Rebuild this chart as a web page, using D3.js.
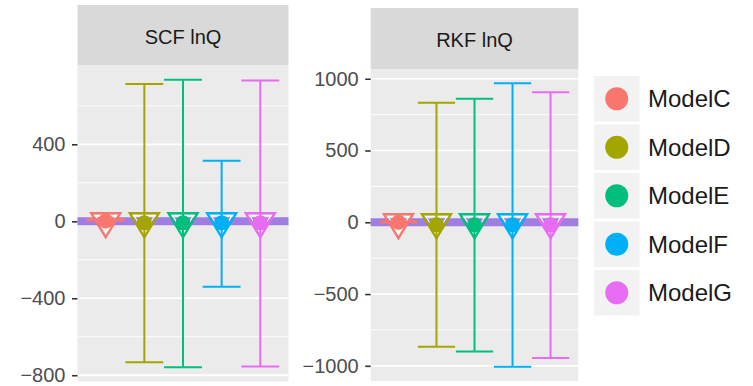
<!DOCTYPE html>
<html>
<head>
<meta charset="utf-8">
<script src="https://cdn.jsdelivr.net/npm/d3@7"></script>
<style>
  html, body { margin: 0; padding: 0; background: #ffffff; }
  svg { display: block; font-family: "Liberation Sans", Arial, sans-serif; }
</style>
</head>
<body>
<svg id="chart" width="753" height="386"></svg>
<script>
// ---------------- data ----------------
const models = ["ModelC", "ModelD", "ModelE", "ModelF", "ModelG"];
const colors = ["#F8766D", "#A3A500", "#00BF7D", "#00B0F6", "#E76BF3"];

const scfUpper = [10, 713, 735, 315, 732];
const scfLower = [4, -732, -758, -340, -755];
const scfCircle = [2, -8, -8, -8, -8];
const scfTriangle = [0, 0, 0, 0, 0];
const scfTicks = [400, 0, -400, -800];
const scfMinor = [600, 200, -200, -600];

const rkfUpper = [6, 832, 860, 969, 905];
const rkfLower = [-2, -868, -900, -1007, -946];
const rkfCircle = [0, -18, -18, -18, -18];
const rkfTriangle = [0, 0, 0, 0, 0];
const rkfTicks = [1000, 500, 0, -500, -1000];
const rkfMinor = [750, 250, -250, -750];

const refLine = 0;

const panels = [
  { title: "SCF lnQ", upper: scfUpper, lower: scfLower, circle: scfCircle, tri: scfTriangle,
    ticks: scfTicks, minor: scfMinor, x0: 77.5, x1: 288.5, stripTop: 5, top: 65.5, bottom: 381.5 },
  { title: "RKF lnQ", upper: rkfUpper, lower: rkfLower, circle: rkfCircle, tri: rkfTriangle,
    ticks: rkfTicks, minor: rkfMinor, x0: 370.7, x1: 578.3, stripTop: 8, top: 69, bottom: 381 }
];

const svg = d3.select("#chart");
const color = d3.scaleOrdinal().domain(models).range(colors);

panels.forEach(p => {
  const g = svg.append("g");
  const all = p.upper.concat(p.lower, p.circle, p.tri, [refLine]);
  const mn = d3.min(all), mx = d3.max(all);
  const ex = (mx - mn) * 0.05;
  const y = d3.scaleLinear().domain([mn - ex, mx + ex]).range([p.bottom, p.top]);
  const x = d3.scalePoint().domain(models).range([p.x0, p.x1]).padding(0.73);
  const step = x.step();

  // strip
  g.append("rect").attr("x", p.x0).attr("y", p.stripTop)
    .attr("width", p.x1 - p.x0).attr("height", p.top - p.stripTop).attr("fill", "#d9d9d9");
  g.append("text").attr("x", (p.x0 + p.x1) / 2).attr("y", p.stripTop + 39)
    .attr("text-anchor", "middle").attr("font-size", 20).attr("fill", "#1a1a1a").text(p.title);

  // panel background
  g.append("rect").attr("x", p.x0).attr("y", p.top)
    .attr("width", p.x1 - p.x0).attr("height", p.bottom - p.top).attr("fill", "#ebebeb");

  // grid
  g.selectAll(".minor").data(p.minor).enter().append("line")
    .attr("x1", p.x0).attr("x2", p.x1).attr("y1", d => y(d)).attr("y2", d => y(d))
    .attr("stroke", "#ffffff").attr("stroke-width", 0.9);
  g.selectAll(".major").data(p.ticks).enter().append("line")
    .attr("x1", p.x0).attr("x2", p.x1).attr("y1", d => y(d)).attr("y2", d => y(d))
    .attr("stroke", "#ffffff").attr("stroke-width", 1.7);

  // axis
  const axis = d3.axisLeft(y).tickValues(p.ticks).tickSize(5.5).tickPadding(6.5)
    .tickFormat(d => d < 0 ? "\u2212" + Math.abs(d) : String(d));
  const ag = g.append("g").attr("transform", `translate(${p.x0},0)`).call(axis);
  ag.select(".domain").remove();
  ag.selectAll(".tick line").attr("stroke", "#333333").attr("stroke-width", 1.6);
  ag.selectAll(".tick text").attr("fill", "#4d4d4d").attr("font-size", 20)
    .attr("font-family", "Liberation Sans, Arial, sans-serif");

  // reference line
  g.append("line").attr("x1", p.x0).attr("x2", p.x1)
    .attr("y1", y(refLine)).attr("y2", y(refLine))
    .attr("stroke", "#a07de3").attr("stroke-width", 8);

  // triangles (open, down-pointing)
  const triW = 29, triH = 24;
  const triPath = (cx, cy, s) => {
    const w = triW * s, h = triH * s;
    const top = cy - h / 3, bot = cy + 2 * h / 3;
    return `M${cx - w / 2},${top}L${cx + w / 2},${top}L${cx},${bot}Z`;
  };
  models.forEach((m, i) => {
    const cx = x(m), cy = y(p.tri[i]);
    g.append("path").attr("d", triPath(cx, cy, 1)).attr("fill", "none")
      .attr("stroke", color(m)).attr("stroke-width", 2.4).attr("stroke-linejoin", "miter");
    g.append("path").attr("d", triPath(cx, cy, 0.72)).attr("fill", "none")
      .attr("stroke", "#ffffff").attr("stroke-width", 1.1);
  });

  // error bars
  models.forEach((m, i) => {
    const cx = x(m), cw = step * 0.98;
    const eg = g.append("g").attr("stroke", color(m)).attr("stroke-width", 2);
    eg.append("line").attr("x1", cx).attr("x2", cx).attr("y1", y(p.upper[i])).attr("y2", y(p.lower[i]));
    eg.append("line").attr("x1", cx - cw / 2).attr("x2", cx + cw / 2).attr("y1", y(p.upper[i])).attr("y2", y(p.upper[i]));
    eg.append("line").attr("x1", cx - cw / 2).attr("x2", cx + cw / 2).attr("y1", y(p.lower[i])).attr("y2", y(p.lower[i]));
  });

  // circles
  g.selectAll(".pt").data(models).enter().append("circle")
    .attr("cx", d => x(d)).attr("cy", (d, i) => y(p.circle[i])).attr("r", 7.5)
    .attr("fill", d => color(d));
});

// legend
const leg = svg.append("g");
const keyTop = 76, keyH = 45.5, keyGap = 3, keyX = 594, keyW = 45.5;
models.forEach((m, i) => {
  const ty = keyTop + i * (keyH + keyGap);
  leg.append("rect").attr("x", keyX).attr("y", ty).attr("width", keyW).attr("height", keyH)
    .attr("fill", "#f2f2f2");
  leg.append("circle").attr("cx", keyX + keyW / 2).attr("cy", ty + keyH / 2).attr("r", 11.5)
    .attr("fill", color(m));
  leg.append("text").attr("x", 648).attr("y", ty + keyH / 2 + 8.5)
    .attr("font-size", 24).attr("fill", "#1a1a1a").text(m);
});
</script>
</body>
</html>
